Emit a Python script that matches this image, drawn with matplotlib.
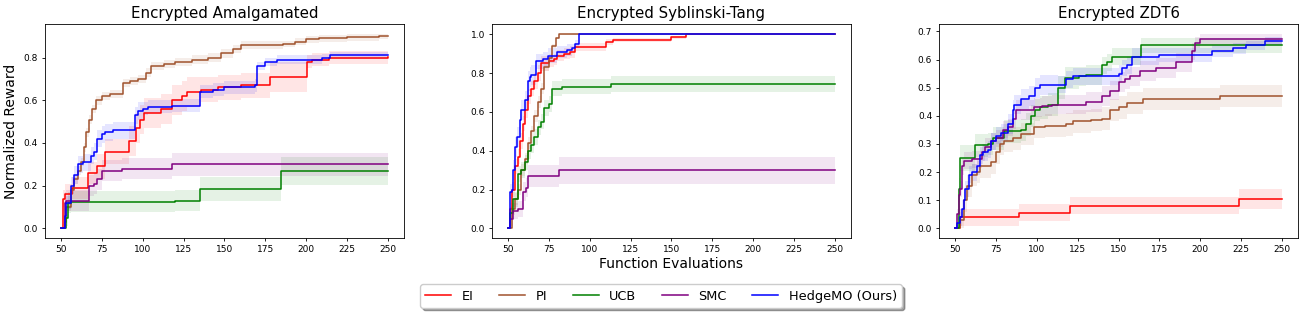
import numpy as np
import matplotlib
matplotlib.use('Agg')
import matplotlib.pyplot as plt

# (evaluation, mean, half-width of band) breakpoints of step curves
methods = ['EI', 'PI', 'UCB', 'SMC', 'HedgeMO (Ours)']
colors = ['red', 'sienna', 'green', 'purple', 'blue']
titles = ['Encrypted Amalgamated', 'Encrypted Syblinski-Tang', 'Encrypted ZDT6']

amal_ei = [(50, 0, 0), (51, 0.14, 0.04), (52.5, 0.16, 0.05), (56.5, 0.19, 0.05), (66.5, 0.26, 0.05),
           (72, 0.29, 0.06), (77, 0.36, 0.06), (91.5, 0.41, 0.07), (95.5, 0.47, 0.07), (98.5, 0.51, 0.07),
           (101, 0.54, 0.07), (111, 0.56, 0.07), (118, 0.60, 0.07), (124, 0.62, 0.07), (127, 0.64, 0.07),
           (135.5, 0.65, 0.06), (146, 0.66, 0.06), (160, 0.67, 0.06), (178, 0.71, 0.07), (200.5, 0.78, 0.03),
           (204, 0.79, 0.03), (214, 0.80, 0.03), (250, 0.805, 0.03)]
amal_pi = [(50, 0, 0), (52, 0.03, 0.02), (53, 0.10, 0.02), (56, 0.18, 0.02), (58, 0.23, 0.02),
           (60, 0.27, 0.02), (62, 0.31, 0.02), (64, 0.38, 0.02), (65, 0.45, 0.02), (67, 0.51, 0.02),
           (69, 0.56, 0.02), (71, 0.60, 0.02), (75, 0.62, 0.02), (80, 0.63, 0.02), (88, 0.68, 0.02),
           (92, 0.69, 0.02), (97, 0.70, 0.02), (102, 0.73, 0.02), (105, 0.76, 0.02), (113, 0.77, 0.02),
           (120, 0.78, 0.02), (130, 0.79, 0.02), (140, 0.80, 0.02), (148, 0.82, 0.02), (155, 0.84, 0.02),
           (160, 0.86, 0.02), (186, 0.865, 0.015), (193, 0.875, 0.015), (200, 0.885, 0.015),
           (208, 0.89, 0.015), (225, 0.895, 0.015), (245, 0.90, 0.012), (250, 0.90, 0.012)]
amal_ucb = [(50, 0, 0), (53, 0.05, 0.04), (54, 0.12, 0.05), (56, 0.125, 0.05), (120, 0.13, 0.05),
            (135, 0.185, 0.055), (185, 0.27, 0.065), (250, 0.27, 0.065)]
amal_smc = [(50, 0, 0), (52, 0.12, 0.05), (53, 0.13, 0.05), (66, 0.13, 0.05), (67, 0.20, 0.05),
            (70, 0.21, 0.05), (72, 0.23, 0.05), (75, 0.27, 0.05), (87, 0.28, 0.05), (118, 0.30, 0.055),
            (250, 0.30, 0.055)]
amal_hedge = [(50, 0, 0), (52, 0.06, 0.03), (53, 0.12, 0.03), (56, 0.20, 0.04), (58, 0.25, 0.04),
              (60, 0.30, 0.04), (63, 0.31, 0.04), (68, 0.34, 0.04), (70, 0.36, 0.04), (72, 0.42, 0.04),
              (75, 0.44, 0.04), (77, 0.45, 0.04), (82, 0.46, 0.04), (95, 0.53, 0.04), (97, 0.55, 0.04),
              (100, 0.56, 0.03), (103, 0.57, 0.03), (118, 0.575, 0.03), (135, 0.64, 0.03), (143, 0.65, 0.03),
              (150, 0.66, 0.03), (169, 0.67, 0.03), (170, 0.76, 0.02), (175, 0.78, 0.02), (182, 0.79, 0.02),
              (205, 0.79, 0.02), (210, 0.80, 0.015), (215, 0.81, 0.015), (250, 0.81, 0.015)]

syb_ei = [(50, 0, 0), (51, 0.10, 0.03), (52, 0.20, 0.04), (54, 0.32, 0.04), (56, 0.37, 0.04),
          (57, 0.45, 0.04), (59, 0.54, 0.04), (60, 0.61, 0.04), (62, 0.68, 0.04), (64, 0.72, 0.04),
          (66, 0.76, 0.04), (68, 0.80, 0.04), (70, 0.85, 0.04), (75, 0.86, 0.03), (78, 0.87, 0.03),
          (80, 0.89, 0.03), (84, 0.90, 0.03), (88, 0.91, 0.03), (91, 0.935, 0.02), (110, 0.96, 0.015),
          (114, 0.97, 0.01), (150, 0.985, 0.008), (159, 1.0, 0.003), (250, 1.0, 0.003)]
syb_pi = [(50, 0, 0), (52, 0.10, 0.03), (54, 0.15, 0.03), (56, 0.20, 0.03), (58, 0.30, 0.03),
          (60, 0.36, 0.03), (62, 0.44, 0.03), (64, 0.50, 0.03), (66, 0.58, 0.03), (68, 0.65, 0.03),
          (70, 0.72, 0.03), (72, 0.83, 0.02), (75, 0.88, 0.02), (77, 0.94, 0.01), (79, 0.98, 0.005),
          (81, 1.0, 0.002), (250, 1.0, 0.002)]
syb_ucb = [(50, 0, 0), (51, 0.08, 0.03), (53, 0.15, 0.04), (56, 0.28, 0.04), (58, 0.30, 0.04),
           (60, 0.34, 0.04), (62, 0.40, 0.04), (64, 0.43, 0.04), (66, 0.47, 0.04), (68, 0.52, 0.04),
           (70, 0.55, 0.04), (72, 0.62, 0.04), (75, 0.64, 0.04), (77, 0.72, 0.04), (83, 0.73, 0.04),
           (113, 0.745, 0.04), (250, 0.745, 0.04)]
syb_smc = [(50, 0, 0), (51, 0.05, 0.04), (53, 0.09, 0.04), (56, 0.10, 0.04), (59, 0.19, 0.05),
           (61, 0.21, 0.05), (62, 0.27, 0.055), (81, 0.30, 0.07), (250, 0.30, 0.07)]
syb_hedge = [(50, 0, 0), (51, 0.19, 0.04), (52, 0.20, 0.04), (53, 0.30, 0.05), (54, 0.42, 0.05),
             (55, 0.47, 0.05), (57, 0.56, 0.05), (58, 0.61, 0.05), (60, 0.66, 0.05), (62, 0.76, 0.05),
             (63, 0.78, 0.05), (64, 0.79, 0.05), (67, 0.86, 0.04), (71, 0.87, 0.04), (74, 0.89, 0.04),
             (80, 0.91, 0.03), (86, 0.92, 0.03), (89, 0.93, 0.02), (91, 0.95, 0.02), (93, 1.0, 0.003),
             (250, 1.0, 0.003)]

zdt_ei = [(50, 0, 0), (53, 0.04, 0.03), (89, 0.055, 0.03), (120, 0.08, 0.03), (224, 0.105, 0.035),
          (250, 0.105, 0.035)]
zdt_pi = [(50, 0, 0), (53, 0.03, 0.03), (55, 0.10, 0.04), (57, 0.15, 0.04), (60, 0.19, 0.04),
          (63, 0.20, 0.04), (65, 0.22, 0.04), (72, 0.235, 0.04), (75, 0.27, 0.04), (77, 0.30, 0.04),
          (80, 0.31, 0.04), (85, 0.32, 0.04), (90, 0.335, 0.04), (98, 0.36, 0.04), (105, 0.365, 0.04),
          (118, 0.37, 0.04), (122, 0.38, 0.04), (133, 0.385, 0.04), (140, 0.39, 0.04), (145, 0.42, 0.04),
          (150, 0.43, 0.04), (155, 0.445, 0.04), (165, 0.46, 0.04), (212, 0.47, 0.04), (250, 0.47, 0.04)]
zdt_ucb = [(50, 0, 0), (52, 0.14, 0.04), (53, 0.25, 0.045), (62, 0.295, 0.04), (70, 0.30, 0.04),
           (73, 0.32, 0.04), (80, 0.345, 0.04), (90, 0.35, 0.04), (93, 0.37, 0.04), (96, 0.40, 0.04),
           (99, 0.42, 0.04), (102, 0.43, 0.04), (107, 0.44, 0.04), (113, 0.50, 0.04), (117, 0.535, 0.04),
           (126, 0.54, 0.035), (130, 0.545, 0.035), (140, 0.58, 0.03), (143, 0.59, 0.03),
           (146, 0.61, 0.03), (164, 0.65, 0.025), (250, 0.65, 0.025)]
zdt_smc = [(50, 0, 0), (51, 0.05, 0.02), (52, 0.12, 0.03), (53, 0.14, 0.03), (54, 0.22, 0.03),
           (55, 0.24, 0.03), (60, 0.245, 0.03), (66, 0.27, 0.03), (68, 0.29, 0.03), (72, 0.31, 0.03),
           (75, 0.32, 0.03), (79, 0.35, 0.03), (82, 0.36, 0.03), (85, 0.39, 0.035), (87, 0.42, 0.035),
           (98, 0.43, 0.035), (103, 0.435, 0.035), (109, 0.44, 0.035), (130, 0.45, 0.035),
           (140, 0.47, 0.035), (145, 0.49, 0.035), (150, 0.52, 0.035), (154, 0.53, 0.035),
           (157, 0.54, 0.035), (163, 0.56, 0.035), (173, 0.57, 0.035), (185, 0.59, 0.035),
           (195, 0.63, 0.03), (197, 0.66, 0.02), (200, 0.672, 0.02), (250, 0.672, 0.015)]
zdt_hedge = [(50, 0, 0), (51, 0.02, 0.02), (53, 0.04, 0.03), (54, 0.07, 0.03), (55, 0.10, 0.03),
             (56, 0.14, 0.03), (58, 0.19, 0.03), (60, 0.20, 0.03), (63, 0.22, 0.03), (65, 0.26, 0.03),
             (67, 0.27, 0.03), (70, 0.28, 0.03), (72, 0.31, 0.03), (75, 0.33, 0.03), (78, 0.34, 0.03),
             (82, 0.37, 0.035), (85, 0.42, 0.035), (86, 0.44, 0.035), (90, 0.46, 0.035), (95, 0.47, 0.035),
             (99, 0.50, 0.035), (102, 0.51, 0.035), (113, 0.51, 0.03), (118, 0.53, 0.03),
             (122, 0.54, 0.03), (150, 0.55, 0.03), (152, 0.57, 0.03), (155, 0.58, 0.03),
             (158, 0.61, 0.03), (175, 0.615, 0.025), (207, 0.63, 0.02), (220, 0.64, 0.02),
             (228, 0.65, 0.015), (240, 0.665, 0.015), (250, 0.665, 0.015)]

panels = [
    [amal_ei, amal_pi, amal_ucb, amal_smc, amal_hedge],
    [syb_ei, syb_pi, syb_ucb, syb_smc, syb_hedge],
    [zdt_ei, zdt_pi, zdt_ucb, zdt_smc, zdt_hedge],
]

fig, axes = plt.subplots(1, 3, figsize=(13.04, 3.15), dpi=100)
plt.subplots_adjust(left=0.0345, right=0.9954, top=0.924, bottom=0.244, wspace=0.246)

for ax, title, series in zip(axes, titles, panels):
    for name, col, pts in zip(methods, colors, series):
        arr = np.array(pts, dtype=float)
        x, m, e = arr[:, 0], arr[:, 1], arr[:, 2]
        ax.fill_between(x, m - e, m + e, step='post', color=col, alpha=0.1, linewidth=0)
        ax.step(x, m, where='post', color=col, linewidth=1.1, label=name)
    ax.set_title(title, fontsize=10.8, pad=4)
    ax.tick_params(labelsize=6.5, length=2.5, width=0.6, pad=2.5)
    for s in ax.spines.values():
        s.set_linewidth(0.6)

axes[0].set_ylabel('Normalized Reward', fontsize=10)
axes[1].set_xlabel('Function Evaluations', fontsize=10, labelpad=2)

handles, labels = axes[0].get_legend_handles_labels()
fig.legend(handles, labels, loc='center', bbox_to_anchor=(0.507, 0.06), ncol=5,
           fontsize=9.3, shadow=True, handlelength=2.0, columnspacing=2.0)

plt.savefig('out.png')
